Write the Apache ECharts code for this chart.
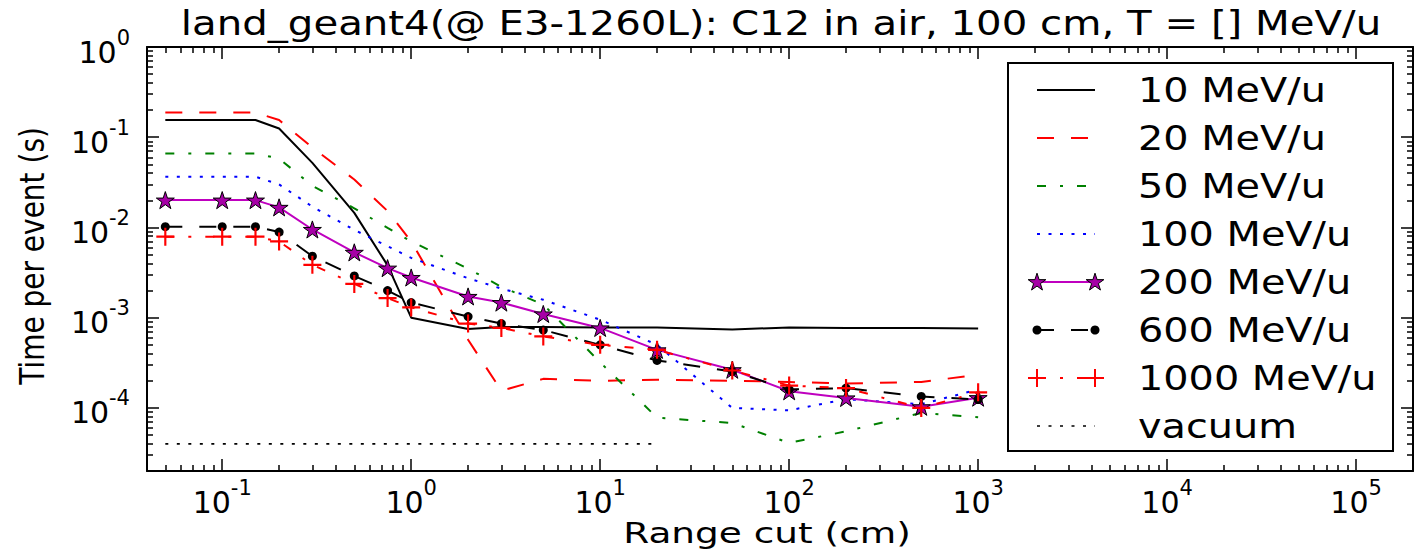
<!DOCTYPE html>
<html><head><meta charset="utf-8">
<script src="https://cdn.jsdelivr.net/npm/echarts@6/dist/echarts.min.js"></script>
<style>html,body{margin:0;padding:0;background:#fff}#c{width:1422px;height:552px}</style>
</head><body><div id="c"></div>
<script>
// ---------- data ----------
const titleText = 'land_geant4(@ E3-1260L): C12 in air, 100 cm, T = [] MeV/u';
const xAxisName = 'Range cut (cm)';
const yAxisName = 'Time per event (s)';
const seriesNames = ['10 MeV/u','20 MeV/u','50 MeV/u','100 MeV/u','200 MeV/u','600 MeV/u','1000 MeV/u','vacuum'];
const rangeCuts = [0.05,0.1,0.15,0.2,0.3,0.5,0.75,1,2,3,5,10,20,50,100,200,500,1000];
const vacuumCuts = [0.05,0.1,0.15,0.2,0.3,0.5,0.75,1,2,3,5,10,20];
const t10   = [0.155,0.155,0.155,0.125,0.052,0.0145,0.0038,0.001,0.00075,0.00079,0.00079,0.00078,0.00078,0.00074,0.00078,0.00077,0.00077,0.00076];
const t20   = [0.188,0.188,0.188,0.155,0.077,0.034,0.0152,0.007,0.00057,0.000155,0.00021,0.0002,0.000205,0.0002,0.000194,0.000186,0.000194,0.000233];
const t50   = [0.066,0.066,0.066,0.058,0.029,0.0163,0.0099,0.007,0.0035,0.0022,0.0014,0.00032,0.000078,0.000068,0.000041,0.000055,0.000088,0.000079];
const t100  = [0.0365,0.0365,0.0365,0.030,0.017,0.0094,0.0062,0.0046,0.00274,0.0021,0.00158,0.00095,0.0005,0.0001,0.000094,0.000125,0.00011,0.00016];
const t200  = [0.0201,0.0201,0.0201,0.0167,0.0095,0.0053,0.00354,0.00279,0.00172,0.00147,0.0011,0.00077,0.00044,0.000265,0.000153,0.000129,0.000103,0.00013];
const t600  = [0.0102,0.0102,0.0102,0.0089,0.0048,0.0029,0.002,0.00147,0.00103,0.00086,0.00073,0.0005,0.000336,0.000254,0.00016,0.000166,0.000134,0.000124];
const t1000 = [0.0079,0.0079,0.0079,0.007,0.00385,0.00237,0.00165,0.0013,0.00086,0.00077,0.00062,0.0005,0.00044,0.00026,0.000177,0.000166,0.0001,0.000149];
const tVacuum = [4e-5,4e-5,4e-5,4e-5,4e-5,4e-5,4e-5,4e-5,4e-5,4e-5,4e-5,4e-5,4e-5];
const xTickExponents = [-1,0,1,2,3,4,5];
const yTickExponents = [-4,-3,-2,-1,0];
const xLimits = [0.04, 2e5];
const yLimits = [2e-5, 1];

// ---------- helpers ----------
const L = Math.log10;
const FONT = 'DejaVu Sans';
function pts(xs, ys){ return xs.map((x,i)=>[L(x), L(ys[i])]); }
function minorVals(lo, hi){
  const out=[];
  for(let n=Math.floor(lo)-1;n<=Math.ceil(hi);n++) for(let k=2;k<=9;k++){
    const v=n+L(k); if(v>lo+1e-9 && v<hi-1e-9) out.push(v);
  }
  return out;
}
const starPts=[]; for(let i=0;i<10;i++){const r=i%2?0.382:1;const a=(-90+i*36)*Math.PI/180;starPts.push([r*Math.cos(a),r*Math.sin(a)]);}
const starD='M'+starPts.map(p=>(p[0]*10).toFixed(3)+','+(p[1]*10).toFixed(3)).join('L')+'Z';
const plusD='M-1.2,-10H1.2V10H-1.2Z M-10,-1.2H10V1.2H-10Z';

const DASH=[17,17], DASHDOT=[9,14,3,14], DOT=[3,8.5];
const styles = [
  {color:'#000000', dash:'solid'},
  {color:'#ff0000', dash:DASH},
  {color:'#008000', dash:DASHDOT},
  {color:'#0000ff', dash:DOT},
  {color:'#bf00bf', dash:'solid', sym:'star'},
  {color:'#000000', dash:DASH, sym:'circle'},
  {color:'#ff0000', dash:DASHDOT, sym:'plus'},
  {color:'#000000', dash:DOT, width:1.6}
];
const dataSets = [[rangeCuts,t10],[rangeCuts,t20],[rangeCuts,t50],[rangeCuts,t100],[rangeCuts,t200],[rangeCuts,t600],[rangeCuts,t1000],[vacuumCuts,tVacuum]];

function symbolCfg(s){
  if(s.sym==='star') return {symbol:'path://'+starD, symbolSize:18, symbolKeepAspect:true, itemStyle:{color:'#a600a6', borderColor:'#000', borderWidth:1}};
  if(s.sym==='circle') return {symbol:'circle', symbolSize:9, itemStyle:{color:'#000'}};
  if(s.sym==='plus') return {symbol:'path://'+plusD, symbolSize:18, itemStyle:{color:'#ff0000'}};
  return {symbol:'none', showSymbol:false};
}

const series = seriesNames.map((name,i)=>{
  const s=styles[i];
  return Object.assign({
    type:'line', name, data:pts(dataSets[i][0], dataSets[i][1]),
    xAxisIndex:0, yAxisIndex:0, animation:false, silent:true, clip:true,
    lineStyle:{color:s.color, width:s.width||2, type:s.dash, cap:'butt'},
    z: 2+i
  }, symbolCfg(s));
});

const xmin=L(xLimits[0]), xmax=L(xLimits[1]), ymin=L(yLimits[0]), ymax=L(yLimits[1]);
const rich = {
  b:{fontSize:30, lineHeight:40, verticalAlign:'bottom', fontFamily:FONT, color:'#000'},
  s:{fontSize:21, lineHeight:21, verticalAlign:'top', fontFamily:FONT, color:'#000'}
};
const fmt = v => '{b|10}{s|' + Math.round(v) + '}';
function axis(kind, pos, major, min, max, exps){
  const minor = minorVals(min,max);
  return {
    type:'value', position:pos, min, max,
    axisLine:{show:major, onZero:false, lineStyle:{color:'#000', width:2}},
    axisTick:{show:true, inside:true, length: major?12:6, customValues: major?exps:minor, lineStyle:{color:'#000', width:1.5}},
    axisLabel: (major && (pos==='bottom'||pos==='left')) ? {show:true, customValues:exps, formatter:fmt, rich, margin: kind==='x'?6:17} : {show:false},
    splitLine:{show:false}, minorTick:{show:false}
  };
}

// legend (drawn with graphic elements)
const legendGraphic = [];
legendGraphic.push({type:'rect', shape:{x:1008, y:63, width:385, height:388}, style:{fill:'#fff', stroke:'#000', lineWidth:2}, z:100});
seriesNames.forEach((name,i)=>{
  const s=styles[i]; const y=90+i*48; const x1=1037, x2=1095;
  legendGraphic.push({type:'line', shape:{x1, y1:y, x2, y2:y}, style:{stroke:s.color, lineWidth:s.width||2, lineDash: s.dash==='solid'?null:s.dash}, z:101});
  [x1,x2].forEach(cx=>{
    if(s.sym==='star') legendGraphic.push({type:'polygon', shape:{points: starPts.map(p=>[cx+p[0]*9.3, y+0.5+p[1]*9.3])}, style:{fill:'#a600a6', stroke:'#000', lineWidth:1}, z:102});
    if(s.sym==='circle') legendGraphic.push({type:'circle', shape:{cx, cy:y, r:4.5}, style:{fill:'#000'}, z:102});
    if(s.sym==='plus') {
      legendGraphic.push({type:'rect', shape:{x:cx-1, y:y-9, width:2, height:18}, style:{fill:'#ff0000'}, z:102});
      legendGraphic.push({type:'rect', shape:{x:cx-9, y:y-1, width:18, height:2}, style:{fill:'#ff0000'}, z:102});
    }
  });
  legendGraphic.push({type:'text', x:1138, y:y+1, scaleX:1.17, style:{text:name, fontSize:34, fontFamily:FONT, fill:'#000', align:'left', verticalAlign:'middle'}, z:102});
});

const option = {
  backgroundColor:'#fff',
  animation:false,
  grid:{left:147, top:47, right:9, bottom:81, containLabel:false},
  xAxis:[axis('x','bottom',true,xmin,xmax,xTickExponents), axis('x','bottom',false,xmin,xmax), axis('x','top',true,xmin,xmax,xTickExponents), axis('x','top',false,xmin,xmax)],
  yAxis:[axis('y','left',true,ymin,ymax,yTickExponents), axis('y','left',false,ymin,ymax), axis('y','right',true,ymin,ymax,yTickExponents), axis('y','right',false,ymin,ymax)],
  series,
  graphic:[
    {type:'text', x:781, y:24, scaleX:1.22, style:{text:titleText, fontSize:33, fontFamily:FONT, fill:'#000', align:'center', verticalAlign:'middle'}},
    {type:'text', x:767, y:533, scaleX:1.29, style:{text:xAxisName, fontSize:29, fontFamily:FONT, fill:'#000', align:'center', verticalAlign:'middle'}},
    {type:'text', x:32, y:256, rotation:Math.PI/2, scaleY:1.2, style:{text:yAxisName, fontSize:28, fontFamily:FONT, fill:'#000', align:'center', verticalAlign:'middle'}}
  ].concat(legendGraphic)
};
const chart = echarts.init(document.getElementById('c'), null, {renderer:'svg'});
chart.setOption(option);
</script></body></html>
